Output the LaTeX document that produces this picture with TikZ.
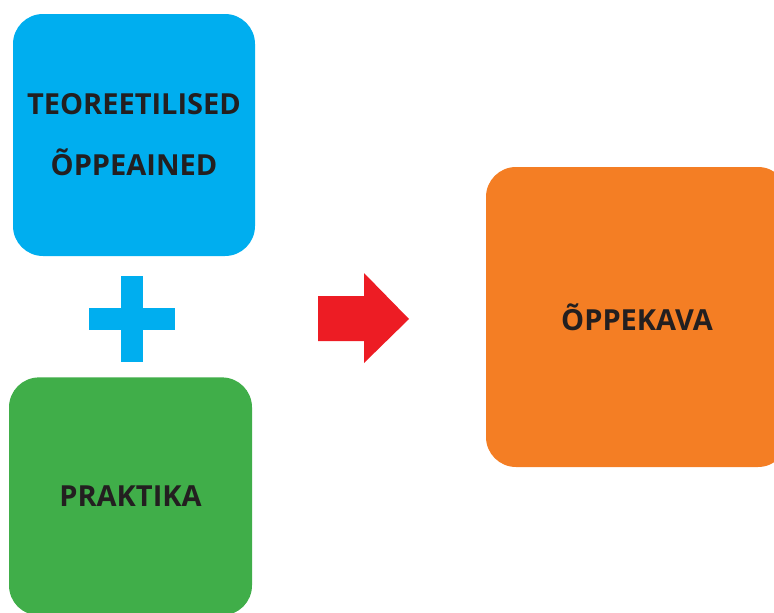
\documentclass[tikz,border=0pt]{standalone}
\usepackage{fontspec}
\setsansfont{Open Sans}
\usepackage{tikz}
\usetikzlibrary{positioning}
\definecolor{PlanBlue}{RGB}{0,174,239}
\definecolor{PlanGreen}{RGB}{64,174,73}
\definecolor{PlanOrange}{RGB}{244,126,36}
\definecolor{PlanRed}{RGB}{237,28,36}
\definecolor{PlanText}{RGB}{35,31,32}
\tikzset{
  block/.style={rounded corners=30pt, inner sep=0pt, align=center,
                font=\sffamily\bfseries\fontsize{29}{61}\selectfont, text=PlanText},
  sign/.style={fill=PlanBlue}
}

\begin{document}
\begin{tikzpicture}[x=1pt, y=-1pt]
\useasboundingbox (0,0) rectangle (774,613);
\node[block, fill=PlanBlue, minimum width=242pt, minimum height=242pt] (teooria)
  at (134,135) {TEOREETILISED\\ÕPPEAINED};
\node[block, fill=PlanGreen, minimum width=243pt, minimum height=238pt,
      below=121pt of teooria, xshift=-3.5pt] (praktika) {PRAKTIKA};
\node[block, fill=PlanOrange, minimum width=302pt, minimum height=300pt] (kava)
  at (637,317) {ÕPPEKAVA};
% plus
\fill[sign] (121,276) rectangle (143,362);
\fill[sign] (89,308) rectangle (175,330);
% arrow
\fill[PlanRed] (318,296) -- (364,296) -- (364,273) -- (409,319)
  -- (364,363) -- (364,341) -- (318,341) -- cycle;
\end{tikzpicture}
\end{document}
